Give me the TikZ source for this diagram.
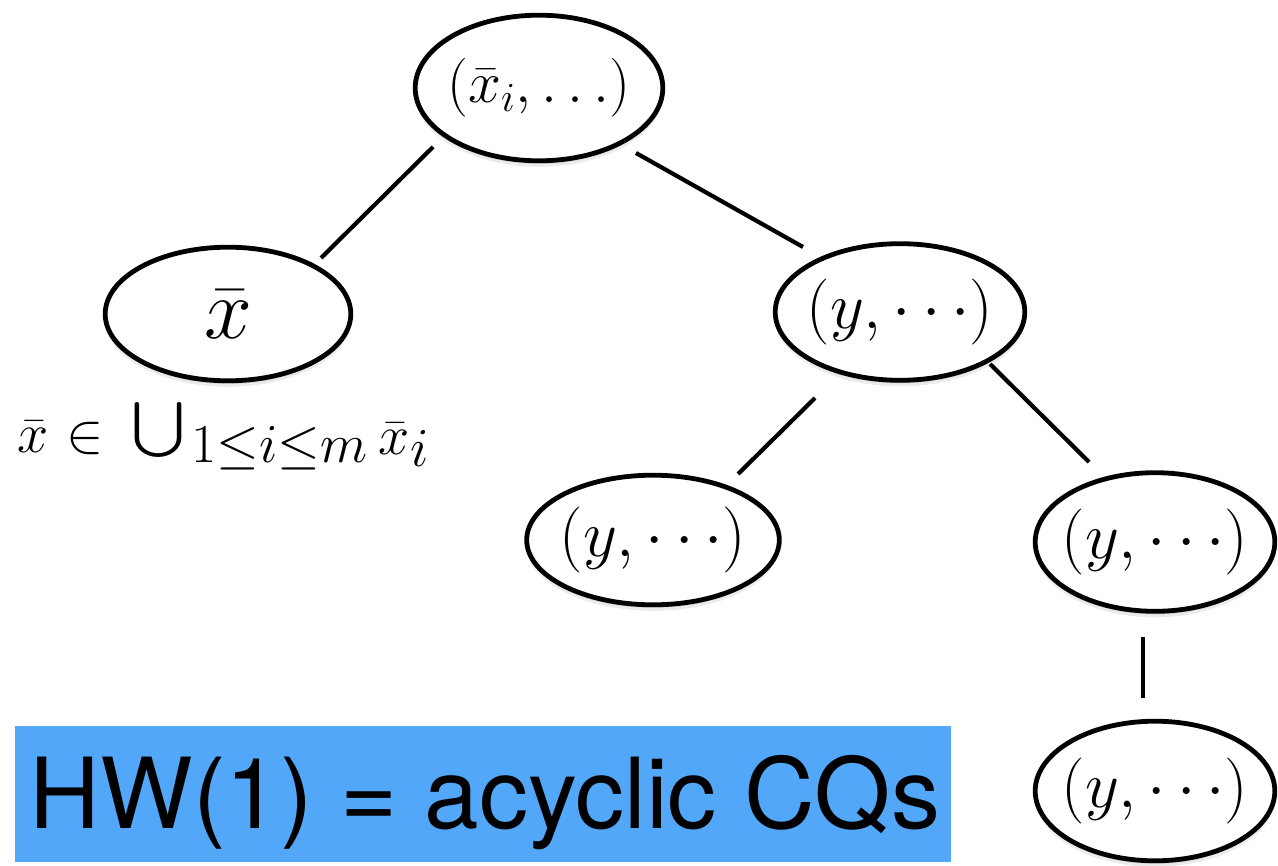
\RequirePackage{fix-cm}
\documentclass[tikz,border=0pt]{standalone}
\usepackage{graphicx}
\usepackage{fontspec}
\newfontfamily\hwfont{TeX Gyre Heros}
\usetikzlibrary{shapes.geometric,calc,shadows}
\definecolor{boxblue}{RGB}{82,167,248}
\tikzset{
  ell/.style={ellipse, draw=black, line width=2.4pt, inner sep=0pt, fill=white,
    drop shadow={shadow xshift=0pt, shadow yshift=-3pt, opacity=0.08, fill=black},
    drop shadow={shadow xshift=0pt, shadow yshift=-1.5pt, opacity=0.12, fill=black}},
  conn/.style={draw=black, line width=2.1pt},
  mtxt/.style={font=\fontsize{29.5}{35}\selectfont},
  ytxt/.style={font=\fontsize{33}{40}\selectfont},
}
\newcommand{\subsz}[1]{\hbox{\fontsize{27.5}{33}\selectfont$#1$}}
\newcommand{\bigunion}{\raisebox{-8pt}{\resizebox*{27pt}{33pt}{\raisebox{\depth}{$\bigcup$}}}}
\begin{document}
\begin{tikzpicture}[x=0.5pt,y=-0.5pt]
\useasboundingbox (0,0) rectangle (1278,866);
% nodes
\node[ell, minimum width=123.8pt, minimum height=72.8pt,
      label={[mtxt]center:$(\bar{x}_i,\ldots)$}] (top) at (539,88) {};
\node[ell, minimum width=122.8pt, minimum height=66.8pt,
      label={[font=\fontsize{43}{52}\selectfont]center:$\bar{x}$}] (left) at (228,314) {};
\node[ell, minimum width=124.8pt, minimum height=68.3pt,
      label={[ytxt]center:$(y,\cdots)$}] (right) at (900,312) {};
\node[ell, minimum width=126.3pt, minimum height=64.8pt,
      label={[ytxt]center:$(y,\cdots)$}] (ll) at (653,540) {};
\node[ell, minimum width=119.8pt, minimum height=69.3pt,
      label={[ytxt]center:$(y,\cdots)$}] (lr) at (1155,542) {};
\node[ell, minimum width=119.8pt, minimum height=69.8pt,
      label={[ytxt]center:$(y,\cdots)$}] (bot) at (1155,791) {};
% connectors
\draw[conn] ($(top)+(-106,59)$) -- ($(left)+(93,-56)$);
\draw[conn] ($(top)+(97,65)$) -- ($(right)+(-97,-65)$);
\draw[conn] ($(right)+(-85,86)$) -- ($(ll)+(85,-66)$);
\draw[conn] ($(right)+(90,52)$) -- ($(lr)+(-66,-80)$);
\draw[conn] ($(lr)+(-12,95)$) -- ($(bot)+(-12,-93)$);
% label
\node[anchor=base west, inner sep=0pt, font=\fontsize{28}{34}\selectfont] (lab) at (17,452)
  {$\bar{x}\kern1pt\in\kern6pt\mathop{\bigunion\kern3pt\raisebox{-5pt}{\subsz{1{\le}i{\le}m}}}\kern1pt\raisebox{-1pt}{$\bar{x}$}\kern0.5pt\raisebox{-7pt}{\subsz{i}}$};
% blue box
\node[fill=boxblue, minimum width=468pt, minimum height=68pt, inner sep=0pt] (hw) at (483,794) {};
\node[anchor=base, inner sep=0pt, font=\hwfont\fontsize{49}{59}\selectfont] (hwt) at ($(hw)+(2,34)$) {HW(1) = acyclic CQs};
\end{tikzpicture}
\end{document}
